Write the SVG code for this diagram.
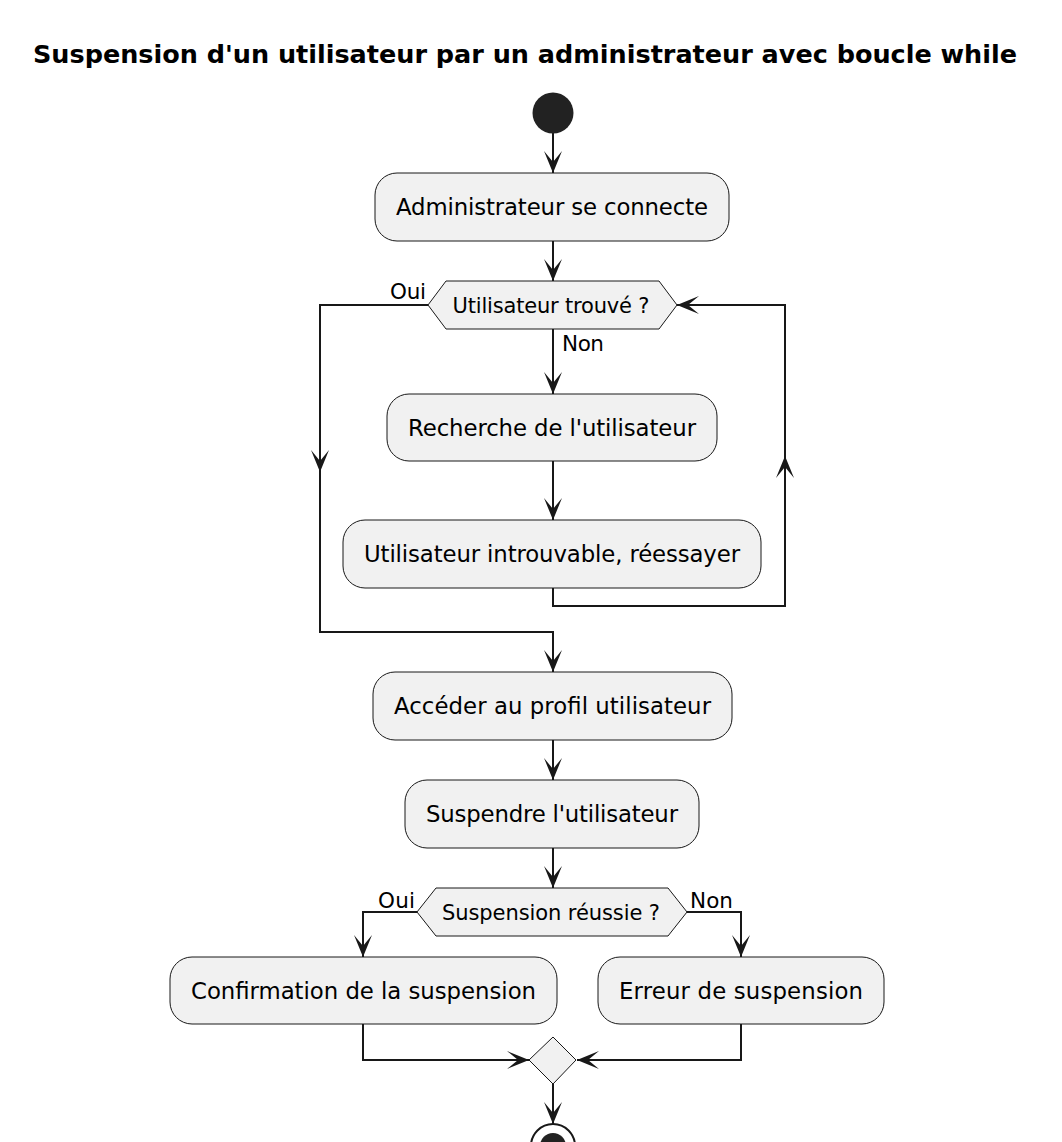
<svg xmlns="http://www.w3.org/2000/svg" width="1062" height="1142" viewBox="0 0 1062 1142">
<style>
.title{font-family:"DejaVu Sans",sans-serif;font-weight:bold;font-size:25.5px;fill:#000}
.act{fill:#F1F1F1;stroke:#181818;stroke-width:1}
.t{font-family:"DejaVu Sans",sans-serif;font-size:22.8px;fill:#000;text-anchor:middle}
.td{font-family:"DejaVu Sans",sans-serif;font-size:21px;fill:#000;text-anchor:middle}
.lbl{font-family:"DejaVu Sans",sans-serif;font-size:21.5px;fill:#000}
.ln{fill:none;stroke:#181818;stroke-width:2}
</style>
<defs>
<marker id="ah" markerUnits="userSpaceOnUse" orient="auto" viewBox="-23 -11 25 22" markerWidth="25" markerHeight="22" refX="0" refY="0">
<path d="M0,0 L-22,-9 L-11,0 L-22,9 Z" fill="#181818"/>
</marker>
</defs>
<rect width="1062" height="1142" fill="#fff"/>
<text class="title" x="33" y="63" textLength="984">Suspension d'un utilisateur par un administrateur avec boucle while</text>

<g id="connectors">
<path class="ln" d="M553,133 V173" marker-end="url(#ah)"/>
<path class="ln" d="M553,241 V281" marker-end="url(#ah)"/>
<path class="ln" d="M553,329 V394" marker-end="url(#ah)"/>
<path class="ln" d="M553,461 V520" marker-end="url(#ah)"/>
<path class="ln" d="M553,588 V606 H785 V456" marker-end="url(#ah)"/>
<path class="ln" d="M785,456 V305 H677" marker-end="url(#ah)"/>
<path class="ln" d="M428,305 H320 V472" marker-end="url(#ah)"/>
<path class="ln" d="M320,472 V632 H553 V672" marker-end="url(#ah)"/>
<path class="ln" d="M553,740 V780" marker-end="url(#ah)"/>
<path class="ln" d="M553,848 V888" marker-end="url(#ah)"/>
<path class="ln" d="M417,912 H363 V957" marker-end="url(#ah)"/>
<path class="ln" d="M687,912 H741 V957" marker-end="url(#ah)"/>
<path class="ln" d="M363,1024 V1060 H529" marker-end="url(#ah)"/>
<path class="ln" d="M741,1024 V1060 H577" marker-end="url(#ah)"/>
<path class="ln" d="M553,1084 V1124" marker-end="url(#ah)"/>
</g>

<g id="start"><circle cx="553" cy="113" r="20.5" fill="#222"/></g>

<g id="n1"><rect class="act" x="375" y="173" width="354" height="68" rx="22"/>
<text class="t" x="552" y="215" textLength="312">Administrateur se connecte</text></g>

<g id="d1"><polygon class="act" points="428,305 446,281 659,281 677,305 659,329 446,329"/>
<text class="td" x="551" y="313" textLength="197">Utilisateur trouvé ?</text>
<text class="lbl" x="390" y="299" textLength="36">Oui</text>
<text class="lbl" x="562" y="351" textLength="42">Non</text></g>

<g id="n2"><rect class="act" x="387" y="394" width="330" height="67" rx="22"/>
<text class="t" x="552" y="436" textLength="288">Recherche de l'utilisateur</text></g>

<g id="n3"><rect class="act" x="343" y="520" width="418" height="68" rx="22"/>
<text class="t" x="552" y="562" textLength="376">Utilisateur introuvable, réessayer</text></g>

<g id="n4"><rect class="act" x="373" y="672" width="359" height="68" rx="22"/>
<text class="t" x="552.5" y="714" textLength="317">Accéder au profil utilisateur</text></g>

<g id="n5"><rect class="act" x="405" y="780" width="294" height="68" rx="22"/>
<text class="t" x="552" y="822" textLength="252">Suspendre l'utilisateur</text></g>

<g id="d2"><polygon class="act" points="417,912 436,888 668,888 687,912 668,936 436,936"/>
<text class="td" x="551" y="920" textLength="218">Suspension réussie ?</text>
<text class="lbl" x="378" y="908" textLength="37">Oui</text>
<text class="lbl" x="690" y="908" textLength="43">Non</text></g>

<g id="n6"><rect class="act" x="170" y="957" width="387" height="67" rx="22"/>
<text class="t" x="363.5" y="999" textLength="345">Confirmation de la suspension</text></g>

<g id="n7"><rect class="act" x="598" y="957" width="286" height="67" rx="22"/>
<text class="t" x="741" y="999" textLength="244">Erreur de suspension</text></g>

<g id="merge"><polygon class="act" points="553,1037 576,1060 553,1084 529,1060"/></g>

<g id="end"><circle cx="553" cy="1146" r="22" fill="none" stroke="#181818" stroke-width="2"/>
<circle cx="553" cy="1146" r="13" fill="#222"/></g>
</svg>
